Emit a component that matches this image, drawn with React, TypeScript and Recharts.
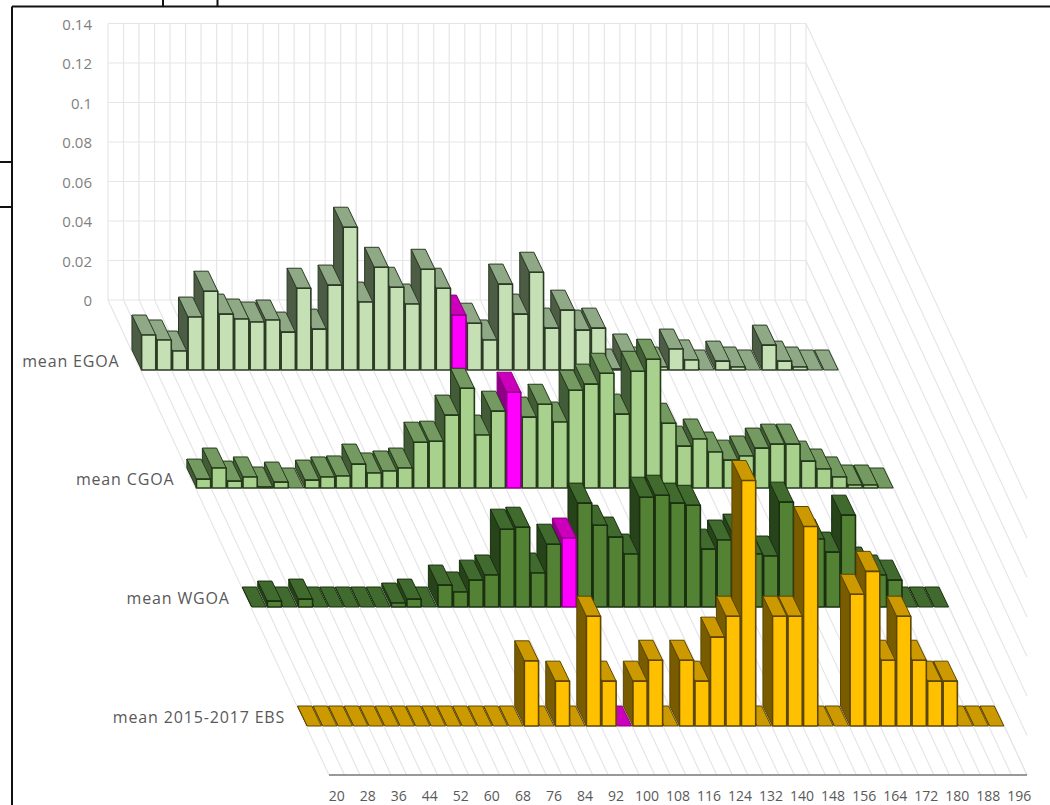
import { BarChart, Bar, XAxis, YAxis, CartesianGrid } from 'recharts';

const bins = [
  20, 24, 28, 32, 36, 40, 44, 48, 52, 56, 60, 64, 68, 72, 76, 80, 84, 88, 92, 96, 100, 104, 108,
  112, 116, 120, 124, 128, 132, 136, 140, 144, 148, 152, 156, 160, 164, 168, 172, 176, 180, 184,
  188, 192, 196,
];

const egoa = [
  0.0177, 0.0152, 0.0096, 0.0268, 0.0399, 0.0283, 0.0258, 0.0243, 0.0253, 0.0192, 0.0414, 0.0207,
  0.043, 0.0723, 0.0344, 0.052, 0.0419, 0.0334, 0.051, 0.0414, 0.0278, 0.0237, 0.0152, 0.0435,
  0.0283, 0.0495, 0.0212, 0.0303, 0.0202, 0.0212, 0.0005, 0.0081, 0.0015, 0.0015, 0.0106, 0.0051,
  0, 0.0045, 0.0015, 0, 0.0126, 0.0045, 0.0015, 0, 0,
];

const cgoa = [
  0.0045, 0.0101, 0.0035, 0.0056, 0.0005, 0.003, 0, 0.004, 0.0056, 0.0061, 0.0121, 0.0076, 0.0086,
  0.0101, 0.0232, 0.0237, 0.0369, 0.0505, 0.0268, 0.0389, 0.0485, 0.0359, 0.0424, 0.0334, 0.0495,
  0.0526, 0.0581, 0.0374, 0.0591, 0.0652, 0.0328, 0.0212, 0.0248, 0.0182, 0.0141, 0.0162, 0.0202,
  0.0222, 0.0222, 0.0136, 0.0096, 0.0056, 0.0015, 0.0015, 0,
];

const wgoa = [
  0, 0.003, 0, 0.004, 0, 0, 0, 0, 0, 0.002, 0.004, 0, 0.0111, 0.0076, 0.0136, 0.0162, 0.0394,
  0.0404, 0.0172, 0.0318, 0.0349, 0.0526, 0.0414, 0.0354, 0.0268, 0.0556, 0.0566, 0.0526, 0.0515,
  0.0293, 0.0339, 0.0369, 0.0268, 0.0258, 0.0531, 0.0303, 0.0344, 0.0278, 0.0465, 0.0202, 0.0162,
  0.0136, 0, 0, 0,
];

const ebs = [
  0, 0, 0, 0, 0, 0, 0, 0, 0, 0, 0, 0, 0, 0, 0.033, 0, 0.0227, 0, 0.0556, 0.0227, 0, 0.0227, 0.0333,
  0, 0.0333, 0.0227, 0.045, 0.0556, 0.1243, 0, 0.0556, 0.0556, 0.101, 0, 0, 0.0667, 0.0783, 0.0333,
  0.0556, 0.0333, 0.0227, 0.0227, 0, 0, 0,
];

const valueTicks = [0, 0.02, 0.04, 0.06, 0.08, 0.1, 0.12, 0.14];
const highlightBin = 100;

const W = 1050;
const H = 805;
const WALL_LEFT = 108;
const WALL_TOP = 23.5;
const WALL_BOTTOM = 300;
const ROW_WIDTH = 698;
const FRONT_LEFT = 329;
const FRONT_BOTTOM = 775;
const SKEW = (FRONT_LEFT - WALL_LEFT) / (FRONT_BOTTOM - WALL_BOTTOM);
const DEPTH_X = 9.6;
const DEPTH_Y = 20;
const FONT = '"Open Sans", sans-serif';

const rows = [
  { name: 'mean EGOA', values: egoa, baseline: 370, front: '#c5e0b4', top: '#8fa886', side: '#4d5d45', edge: '#2c3b25' },
  { name: 'mean CGOA', values: cgoa, baseline: 488, front: '#a9d18e', top: '#749a61', side: '#435c38', edge: '#243a1a' },
  { name: 'mean WGOA', values: wgoa, baseline: 607, front: '#548235', top: '#406a2e', side: '#27431a', edge: '#1a3010' },
  { name: 'mean 2015-2017 EBS', values: ebs, baseline: 726, front: '#ffc000', top: '#cc9a00', side: '#7a5c00', edge: '#5c4600' },
];

const pageStyle = { position: 'absolute', left: 0, top: 0 } as const;

function Box3D(props: any) {
  const { x, y, width, height, payload, row } = props;
  const hot = payload.bin === highlightBin;
  const front = hot ? '#ff00ff' : row.front;
  const top = hot ? '#cc00bb' : row.top;
  const side = hot ? '#8f0088' : row.side;
  const edge = hot ? '#8f0088' : row.edge;
  return (
    <g stroke={edge} strokeWidth={1} strokeLinejoin="round">
      <path
        d={`M${x},${y}L${x - DEPTH_X},${y - DEPTH_Y}L${x - DEPTH_X},${y + height - DEPTH_Y}L${x},${y + height}Z`}
        fill={side}
      />
      <path
        d={`M${x},${y}L${x + width},${y}L${x + width - DEPTH_X},${y - DEPTH_Y}L${x - DEPTH_X},${y - DEPTH_Y}Z`}
        fill={top}
      />
      {height > 0 && <rect x={x} y={y} width={width} height={height} fill={front} strokeWidth={1.6} />}
    </g>
  );
}

function Row({ row }: { row: (typeof rows)[number] }) {
  const left = WALL_LEFT + (row.baseline - WALL_BOTTOM) * SKEW;
  // drawn right to left so that each bar covers the side of its right neighbour
  const data = bins.map((bin, i) => ({ bin, value: row.values[i] })).reverse();
  return (
    <BarChart
      style={pageStyle}
      width={W}
      height={H}
      data={data}
      barSize={14.2}
      margin={{
        left: 0,
        top: row.baseline - (WALL_BOTTOM - WALL_TOP),
        right: W - left - ROW_WIDTH,
        bottom: H - row.baseline,
      }}
    >
      <XAxis dataKey="bin" type="category" reversed hide height={0} />
      <YAxis
        type="number"
        width={left}
        domain={[0, 0.14]}
        ticks={[0]}
        interval={0}
        axisLine={false}
        tickLine={false}
        tickSize={0}
        tickMargin={21}
        tickFormatter={() => row.name}
        tick={{ fontSize: 16, fontFamily: FONT, fill: '#595959', dy: -9, letterSpacing: 0.85 }}
      />
      <Bar dataKey="value" isAnimationActive={false} shape={(p: any) => <Box3D {...p} row={row} />} />
    </BarChart>
  );
}

export default function App() {
  const wallPoints = bins.concat(200).map((_, i) => WALL_LEFT + (i * ROW_WIDTH) / bins.length);
  const wallData = bins.map((bin) => ({ bin, floor: 0 }));
  const wallScale = (WALL_BOTTOM - WALL_TOP) / 0.14;

  return (
    <div style={{ ...pageStyle, width: W, height: H, overflow: 'hidden', background: '#fff' }}>
      {/* back wall */}
      <BarChart
        style={pageStyle}
        width={W}
        height={H}
        data={wallData}
        margin={{ left: 0, top: WALL_TOP, right: W - WALL_LEFT - ROW_WIDTH, bottom: H - WALL_BOTTOM }}
      >
        <CartesianGrid stroke="#e6e6e9" strokeWidth={1.2} verticalPoints={wallPoints} />
        <XAxis dataKey="bin" hide height={0} />
        <YAxis
          type="number"
          width={WALL_LEFT}
          domain={[0, 0.14]}
          ticks={valueTicks}
          interval={0}
          axisLine={false}
          tickLine={false}
          tickSize={0}
          tickMargin={16}
          tick={{ fontSize: 15, fontFamily: FONT, fill: '#7f7f7f', dy: 1 }}
        />
        <Bar dataKey="floor" isAnimationActive={false} />
      </BarChart>

      {/* floor and side wall */}
      <svg style={pageStyle} width={W} height={H}>
        <g stroke="#e6e6e9" strokeWidth={1.2}>
          {wallPoints.map((x) => (
            <line key={x} x1={x} y1={WALL_BOTTOM} x2={x + FRONT_LEFT - WALL_LEFT} y2={FRONT_BOTTOM} />
          ))}
          {valueTicks.map((t) => (
            <line
              key={t}
              x1={WALL_LEFT + ROW_WIDTH}
              y1={WALL_BOTTOM - t * wallScale}
              x2={FRONT_LEFT + ROW_WIDTH}
              y2={FRONT_BOTTOM - t * wallScale}
            />
          ))}
        </g>
      </svg>

      {rows.map((row) => (
        <Row key={row.name} row={row} />
      ))}

      {/* front axis */}
      <BarChart
        style={pageStyle}
        width={W}
        height={H}
        data={wallData}
        margin={{ left: FRONT_LEFT, top: FRONT_BOTTOM - 10, right: W - FRONT_LEFT - ROW_WIDTH, bottom: 0 }}
      >
        <XAxis
          dataKey="bin"
          type="category"
          height={H - FRONT_BOTTOM}
          interval={1}
          axisLine={{ stroke: '#777777', strokeWidth: 1.5 }}
          tickLine={false}
          tickSize={0}
          tickMargin={16}
          tick={{ fontSize: 14, fontFamily: FONT, fill: '#595959' }}
        />
      </BarChart>

      {/* page frame around the pasted chart */}
      <svg style={pageStyle} width={W} height={H}>
        <g stroke="#111" strokeWidth={2}>
          <line x1={12} y1={6.5} x2={W} y2={6.5} />
          <line x1={12} y1={6.5} x2={12} y2={H} />
          <line x1={163} y1={0} x2={163} y2={6.5} />
          <line x1={217.5} y1={0} x2={217.5} y2={6.5} />
          <line x1={0} y1={162} x2={12} y2={162} />
          <line x1={0} y1={207} x2={12} y2={207} />
        </g>
      </svg>
    </div>
  );
}
